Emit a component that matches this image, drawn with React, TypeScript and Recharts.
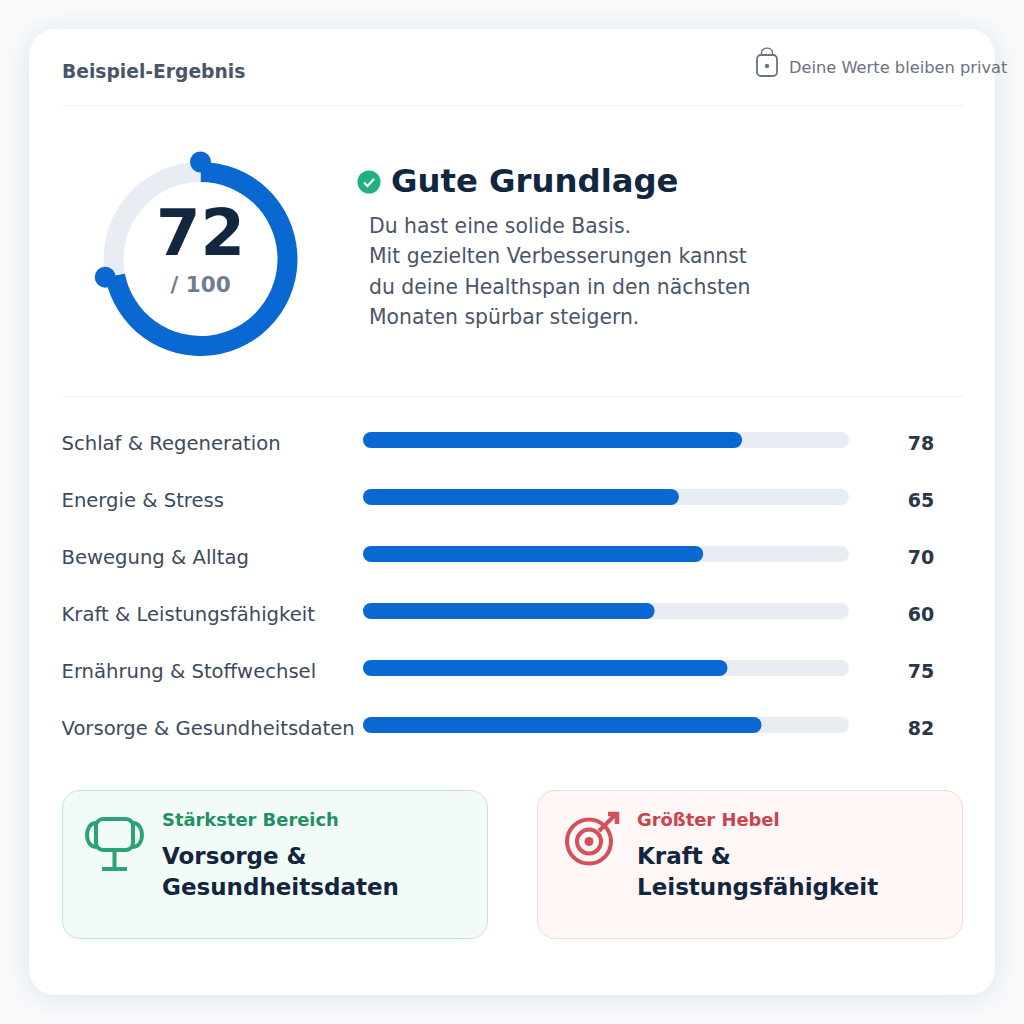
import { BarChart, Bar, LabelList, XAxis, YAxis, PieChart, Pie, Sector, Cell } from 'recharts';
import type { CSSProperties } from 'react';

const categories = [
  'Schlaf & Regeneration',
  'Energie & Stress',
  'Bewegung & Alltag',
  'Kraft & Leistungsfähigkeit',
  'Ernährung & Stoffwechsel',
  'Vorsorge & Gesundheitsdaten',
];
const scores = [78, 65, 70, 60, 75, 82];
const totalScore = 72;
const maxScore = 100;
const summaryLines = [
  'Du hast eine solide Basis.',
  'Mit gezielten Verbesserungen kannst',
  'du deine Healthspan in den nächsten',
  'Monaten spürbar steigern.',
];

const barData = categories.map((name, i) => ({ name, score: scores[i] }));
const gaugeData = [
  { name: 'score', value: totalScore },
  { name: 'rest', value: maxScore - totalScore },
];

const FONT = '"DejaVu Sans", sans-serif';
const BLUE = '#0A68D2';
const TRACK = '#E8EDF4';
const NAVY = '#12263F';

const abs = (left: number, top: number, extra: CSSProperties = {}): CSSProperties => ({
  position: 'absolute',
  left,
  top,
  whiteSpace: 'nowrap',
  ...extra,
});

// the rest sector is drawn last, so it carries the two round dots of the filled arc
const GaugeSector = (props: any) => {
  const { cx, cy, outerRadius, startAngle, endAngle, index } = props;
  const dot = (angle: number) => {
    const rad = (angle * Math.PI) / 180;
    return <circle cx={cx + outerRadius * Math.cos(rad)} cy={cy - outerRadius * Math.sin(rad)} r={10.5} fill={BLUE} />;
  };
  return (
    <g>
      <Sector {...props} />
      {index === 1 && dot(startAngle)}
      {index === 1 && dot(endAngle)}
    </g>
  );
};

const CategoryTick = ({ y, payload }: any) => (
  <text x={-0.5} y={y + 3.2} dy="0.36em" fontFamily={FONT} fontSize={19.6} fill="#3D4A5C">
    {payload.value}
  </text>
);

const ScoreLabel = ({ y, height, value }: any) => (
  <text x={859} y={y + height / 2 + 3} dy="0.36em" textAnchor="middle" fontFamily={FONT} fontSize={19} fontWeight={700} fill="#2B3648">
    {value}
  </text>
);

function Callout({ left, width, bg, border, color, label, lines, icon }: any) {
  return (
    <div style={abs(left, 790, { width, height: 149, boxSizing: 'border-box', background: bg, border: `1px solid ${border}`, borderRadius: 18 })}>
      <svg width={70} height={70} style={{ position: 'absolute', left: 13, top: 13 }} viewBox="0 0 70 70">
        {icon}
      </svg>
      <div style={abs(99, 18, { fontSize: 17.9, fontWeight: 700, color, lineHeight: '22px' })}>{label}</div>
      {lines.map((t: string, i: number) => (
        <div key={t} style={abs(99, 50 + i * 30.5, { fontSize: 23, fontWeight: 700, color: NAVY, lineHeight: '30px' })}>
          {t}
        </div>
      ))}
    </div>
  );
}

const trophy = (
  <g fill="none" stroke="#2BA474" strokeWidth={4}>
    <rect x={20} y={15} width={37} height={31} rx={7} />
    <path d="M20 19 C 8 19 8 43 20 43 M57 19 C 69 19 69 43 57 43" />
    <path d="M38.5 46 V64 M26 65 H51" />
  </g>
);

const target = (
  <g fill="none" stroke="#D4505A" strokeWidth={4}>
    <circle cx={38} cy={37.5} r={22} />
    <circle cx={38} cy={37.5} r={12} />
    <circle cx={38} cy={37.5} r={4.5} fill="#D4505A" stroke="none" />
    <path d="M48 27 L65 10" />
    <path d="M57 10 H66 V20" strokeWidth={4.5} />
  </g>
);

export default function App() {
  return (
    <div style={{ position: 'absolute', left: 0, top: 0, width: 1024, height: 1024, overflow: 'hidden', background: '#F8FAFC', fontFamily: FONT }}>
      <div style={abs(29, 29, { width: 966, height: 966, background: '#FFFFFF', borderRadius: 26, boxShadow: '0 2px 26px rgba(50,75,110,0.13)' })} />

      <div style={abs(62, 60, { fontSize: 18.7, fontWeight: 700, color: '#4A5568', lineHeight: '24px' })}>Beispiel-Ergebnis</div>
      <svg width={26} height={34} style={{ position: 'absolute', left: 754, top: 45 }} viewBox="0 0 26 34">
        <rect x={3} y={10} width={20} height={21} rx={4} fill="none" stroke="#6B7280" strokeWidth={1.8} />
        <path d="M7.5 10 V8 C7.5 1.5 18.5 1.5 18.5 8 V10" fill="none" stroke="#6B7280" strokeWidth={1.4} />
        <circle cx={13} cy={21} r={2.2} fill="#6B7280" />
      </svg>
      <div style={abs(789, 58, { fontSize: 16.25, color: '#6B7280', lineHeight: '20px' })}>Deine Werte bleiben privat</div>
      <div style={abs(62, 105, { width: 901, height: 1, background: '#EEF1F5' })} />

      <div style={abs(90, 140)}>
        <PieChart width={220} height={238} margin={{ top: 0, right: 0, bottom: 0, left: 0 }}>
          <Pie
            data={gaugeData}
            dataKey="value"
            cx={110.5}
            cy={119}
            innerRadius={77}
            outerRadius={97}
            startAngle={90}
            endAngle={-270}
            stroke="none"
            shape={GaugeSector}
            isAnimationActive={false}
          >
            <Cell fill={BLUE} />
            <Cell fill={TRACK} />
          </Pie>
        </PieChart>
      </div>
      <div style={abs(100, 195, { width: 201, textAlign: 'center', fontSize: 64, fontWeight: 700, color: NAVY, lineHeight: '76px' })}>{totalScore}</div>
      <div style={abs(100, 271, { width: 201, textAlign: 'center', fontSize: 21.5, fontWeight: 700, color: '#6F7C91', lineHeight: '28px' })}>/ {maxScore}</div>

      <svg width={24} height={24} style={{ position: 'absolute', left: 357, top: 170 }} viewBox="0 0 24 24">
        <circle cx={12} cy={12} r={11.5} fill="#22B07D" />
        <path d="M7 12.5 L10.5 16 L17 9" fill="none" stroke="#FFFFFF" strokeWidth={2.2} />
      </svg>
      <div style={abs(391, 161, { fontSize: 32.3, fontWeight: 700, color: NAVY, lineHeight: '40px' })}>Gute Grundlage</div>
      {summaryLines.map((line, i) => (
        <div key={line} style={abs(369, 210.5 + i * 30.5, { fontSize: 20.4, color: '#4A5568', lineHeight: '30px' })}>
          {line}
        </div>
      ))}
      <div style={abs(62, 396, { width: 901, height: 1, background: '#EEF1F5' })} />

      <div style={abs(62, 411)}>
        <BarChart width={900} height={342} layout="vertical" data={barData} margin={{ top: 0, right: 113, bottom: 0, left: 0 }} barSize={16}>
          <XAxis type="number" domain={[0, maxScore]} hide />
          <YAxis type="category" dataKey="name" width={301} axisLine={false} tickLine={false} tick={CategoryTick} interval={0} />
          <Bar dataKey="score" fill={BLUE} radius={8} background={{ fill: TRACK, radius: 8 }} isAnimationActive={false}>
            <LabelList dataKey="score" content={ScoreLabel} />
          </Bar>
        </BarChart>
      </div>

      <Callout left={62} width={426} bg="#F2FBF7" border="#BFE6D5" color="#1F9164" label="Stärkster Bereich" lines={['Vorsorge &', 'Gesundheitsdaten']} icon={trophy} />
      <Callout left={537} width={426} bg="#FFF6F6" border="#F6D6D6" color="#C9444E" label="Größter Hebel" lines={['Kraft &', 'Leistungsfähigkeit']} icon={target} />
    </div>
  );
}
